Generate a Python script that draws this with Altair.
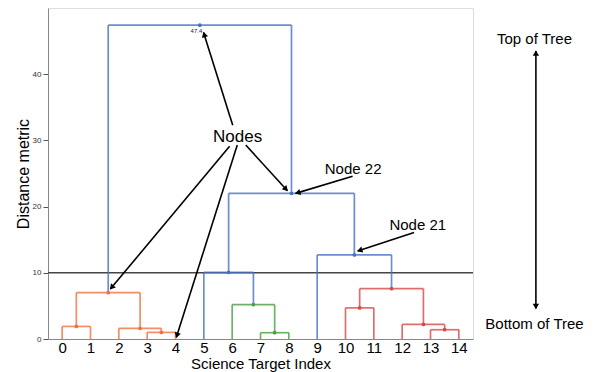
import math
import altair as alt
import pandas as pd

# ---------------- data ----------------
leaves = list(range(15))
merge_left = [7, 3, 13, 2, 0, 12, 10, 6, 19, 21, 5, 9, 25, 23]
merge_right = [8, 4, 14, 16, 1, 17, 11, 15, 18, 20, 22, 24, 26, 27]
merge_height = [0.95, 1.0, 1.4, 1.6, 1.9, 2.2, 4.7, 5.2, 7.0, 7.6, 10.05, 12.7, 22.0, 47.4]
merge_group = ["green", "orange", "red", "orange", "orange", "red", "red", "green",
               "orange", "red", "blue", "blue", "blue", "blue"]
threshold = 10
y_ticks = [0, 10, 20, 30, 40]

root_label = "47.4"

# annotation arrows (tail -> head), data units
arrow_tail_x = [6.02, 5.91, 6.18, 6.48, 10.25, 12.42]
arrow_tail_y = [32.3, 29.1, 29.3, 29.3, 24.6, 16.1]
arrow_head_x = [4.99, 1.70, 4.03, 7.95, 8.24, 10.43]
arrow_head_y = [46.3, 7.54, 0.25, 22.4, 22.0, 13.3]

note_text = ["Nodes", "Node 22", "Node 21", "Top of Tree", "Bottom of Tree"]
note_x = [6.19, 10.27, 12.55, 16.67, 16.67]
note_y = [30.5, 25.7, 17.2, 45.25, 2.26]
note_size = [17, 15, 15, 15, 15]

tree_arrow_x = 16.72
tree_arrow_top = 43.5
tree_arrow_bottom = 4.6

# ---------------- layout ----------------
W, H = 425, 331
PAD = {"left": 48, "top": 8, "right": 122, "bottom": 33}
x_dom = [-0.5, 14.5]
y_dom = [0, 50]
sx = W / (x_dom[1] - x_dom[0])
sy = H / (y_dom[1] - y_dom[0])

FONT = "Liberation Sans"
group_names = ["orange", "green", "red", "blue"]
line_colors = ["#f07040", "#4a9e42", "#d84848", "#4672c4"]
dot_colors = ["#e84a2a", "#2f6a2f", "#c02020", "#1a3d99"]

# ---------------- build dendrogram geometry ----------------
pos = {i: (float(i), 0.0) for i in leaves}
segs = []
nodes = []
n = len(leaves)
for k, (a, b, h, g) in enumerate(zip(merge_left, merge_right, merge_height, merge_group)):
    xa, ha = pos[a]
    xb, hb = pos[b]
    segs.append({"x": xa, "y": ha, "x2": xa, "y2": h, "g": g})
    segs.append({"x": xa, "y": h, "x2": xb, "y2": h, "g": g})
    segs.append({"x": xb, "y": hb, "x2": xb, "y2": h, "g": g})
    xm = (xa + xb) / 2
    pos[n + k] = (xm, h)
    nodes.append({"x": xm, "y": h, "g": g})
seg_df = pd.DataFrame(segs)
node_df = pd.DataFrame(nodes)

xs = alt.Scale(domain=x_dom, nice=False, zero=False)
ys = alt.Scale(domain=y_dom, nice=False, zero=False)
x_axis = alt.Axis(values=leaves, labelFontSize=15, labelColor="black", ticks=False,
                  grid=False, domainColor="#888888", labelPadding=1, labelFont=FONT,
                  title="Science Target Index", titleFontSize=15, titleFont=FONT,
                  titleFontWeight="normal", titleColor="black", titlePadding=1,
                  labelFlush=False)
y_axis = alt.Axis(values=y_ticks, labelFontSize=8, labelColor="#333333", tickColor="#555555",
                  tickSize=5, grid=False, domainColor="#888888", labelPadding=2, labelFont=FONT,
                  title="Distance metric", titleFontSize=16, titleFont=FONT,
                  titleFontWeight="normal", titleColor="black", titlePadding=1)

X = lambda f="x": alt.X(f"{f}:Q", scale=xs, axis=x_axis)
Y = lambda f="y": alt.Y(f"{f}:Q", scale=ys, axis=y_axis)

links = alt.Chart(seg_df).mark_rule(strokeWidth=1.7, opacity=0.8).encode(
    x=X(), y=Y(), x2="x2:Q", y2="y2:Q",
    color=alt.Color("g:N", scale=alt.Scale(domain=group_names, range=line_colors), legend=None),
)

dots = alt.Chart(node_df).mark_point(filled=True, size=14, opacity=1, shape="circle").encode(
    x=X(), y=Y(),
    color=alt.Color("g:N", scale=alt.Scale(domain=group_names, range=dot_colors), legend=None),
)

thr = alt.Chart(pd.DataFrame({"y": [threshold]})).mark_rule(color="#444444", strokeWidth=1.5).encode(
    y=Y()
)

root_x, root_h = pos[n + len(merge_left) - 1]
root_txt = alt.Chart(pd.DataFrame({"x": [root_x - 0.12], "y": [root_h - 0.9], "t": [root_label]})).mark_text(
    fontSize=6, font=FONT, color="#222222"
).encode(x=X(), y=Y(), text="t:N")

# arrows
arr_df = pd.DataFrame({"x": arrow_tail_x, "y": arrow_tail_y, "x2": arrow_head_x, "y2": arrow_head_y})
shafts = alt.Chart(arr_df).mark_rule(color="black", strokeWidth=1.6).encode(
    x=X(), y=Y(), x2="x2:Q", y2="y2:Q"
)

heads = []
def head(tx, ty, hx, hy):
    dx = (hx - tx) * sx
    dy = -(hy - ty) * sy
    L = math.hypot(dx, dy)
    ang = math.degrees(math.atan2(dx, -dy)) % 360
    back = 3.0
    return {"x": hx - dx / L * back / sx, "y": hy + dy / L * back / sy, "a": ang}

for tx, ty, hx, hy in zip(arrow_tail_x, arrow_tail_y, arrow_head_x, arrow_head_y):
    heads.append(head(tx, ty, hx, hy))
heads.append(head(tree_arrow_x, tree_arrow_bottom, tree_arrow_x, tree_arrow_top))
heads.append(head(tree_arrow_x, tree_arrow_top, tree_arrow_x, tree_arrow_bottom))
head_df = pd.DataFrame(heads)
arrowheads = alt.Chart(head_df).mark_point(shape="triangle", filled=True, size=40, color="black",
                                           opacity=1).encode(
    x=X(), y=Y(), angle=alt.Angle("a:Q", scale=None)
)

tree_arrow = alt.Chart(pd.DataFrame({"x": [tree_arrow_x], "y": [tree_arrow_bottom],
                                     "y2": [tree_arrow_top]})).mark_rule(color="black", strokeWidth=1.6).encode(
    x=X(), y=Y(), y2="y2:Q"
)

notes = alt.Chart(pd.DataFrame({"x": note_x, "y": note_y, "t": note_text, "s": note_size})).mark_text(
    font=FONT, color="black", baseline="middle", align="center"
).encode(x=X(), y=Y(), text="t:N", size=alt.Size("s:Q", scale=None))

chart = alt.layer(thr, links, dots, root_txt, shafts, tree_arrow, arrowheads, notes).properties(
    width=W, height=H,
    autosize=alt.AutoSizeParams(type="none"),
    padding=PAD,
).configure_view(stroke="#888888", strokeWidth=1).configure(background="white")

chart.save("out.html", embed_options={"renderer": "svg", "actions": False})
